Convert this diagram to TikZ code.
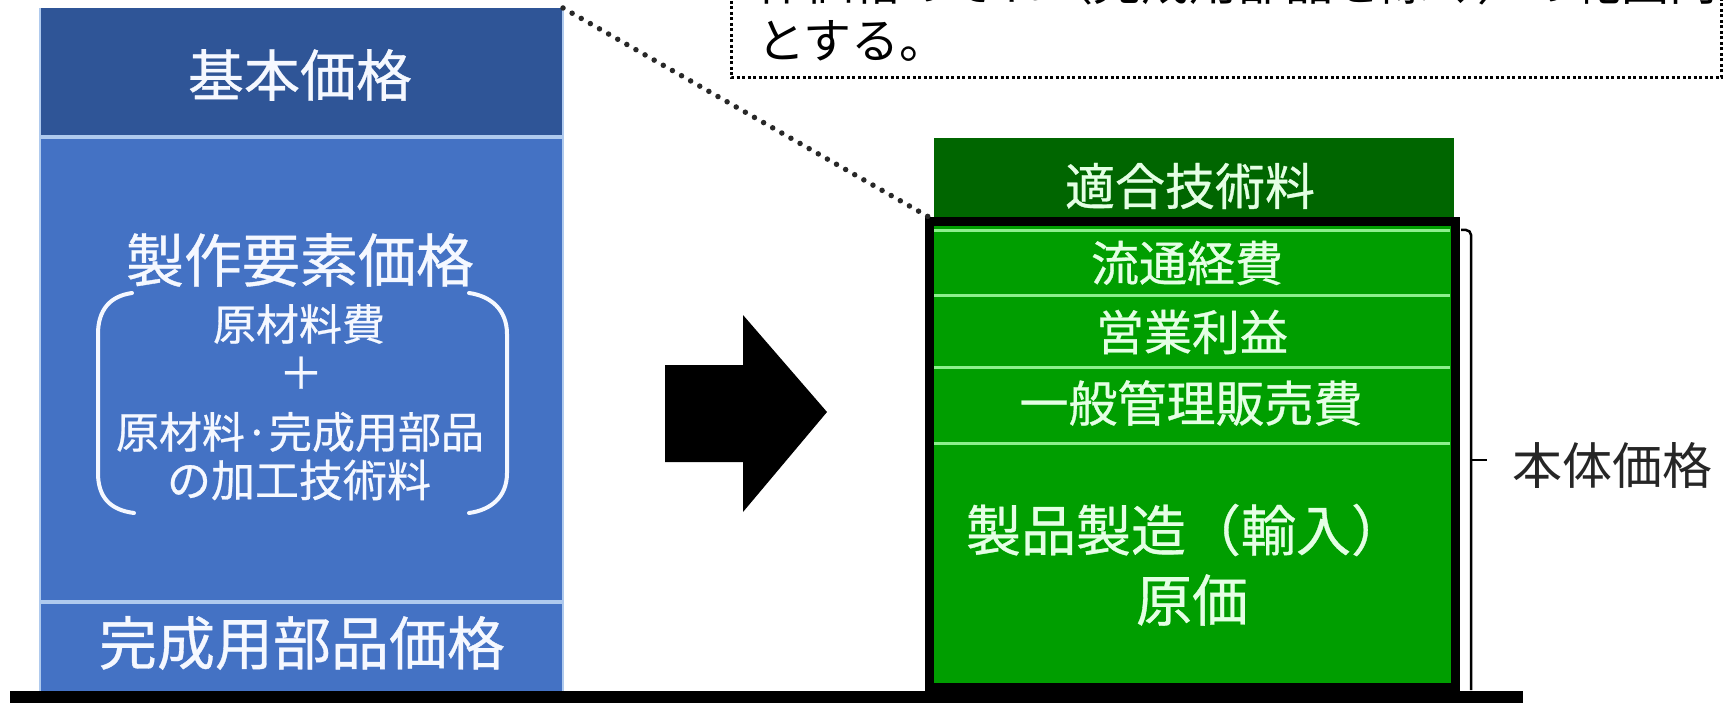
\documentclass[tikz,border=0pt]{standalone}
\usepackage{fontspec}
\newfontfamily\jp{Noto Sans CJK JP}
\newfontfamily\jpb[FakeBold=0.6]{Noto Sans CJK JP}
\definecolor{bluehead}{RGB}{47,85,151}
\definecolor{bluemain}{RGB}{68,114,196}
\definecolor{bluesep}{RGB}{175,202,238}
\definecolor{bluetext}{RGB}{245,248,255}
\definecolor{greenhead}{RGB}{0,102,0}
\definecolor{greenmain}{RGB}{0,158,0}
\definecolor{greensep}{RGB}{140,240,140}
\definecolor{greentext}{RGB}{228,255,228}
\definecolor{dotgrey}{RGB}{40,40,40}
\begin{document}
\begin{tikzpicture}[x=1pt,y=-1pt,
  blk/.style={inner sep=0pt, outer sep=0pt, anchor=north west},
  wtxt/.style={text=bluetext, inner sep=0pt, font=\jpb\fontsize{#1}{#1}\selectfont},
  gtxt/.style={text=greentext, inner sep=0pt, font=\jpb\fontsize{#1}{#1}\selectfont},
  ktxt/.style={text=black, inner sep=0pt, anchor=base west, font=\jp\fontsize{#1}{#1}\selectfont},
  bsep/.style={draw=bluesep, line width=4pt},
  bedge/.style={draw=bluesep, line width=1.5pt},
  gsep/.style={draw=greensep, line width=3pt},
  paren/.style={draw=bluetext, line width=4pt, line cap=round},
  dotline/.style={draw=dotgrey, line width=5.5pt, dash pattern=on 0pt off 10.5pt, line cap=round},
  dotbox/.style={draw=black, line width=3pt, dash pattern=on 3pt off 2.5pt}
]
\useasboundingbox (0,0) rectangle (1731,703);
\fill[white] (0,0) rectangle (1731,703);

% ---------- left blue column ----------
\node[blk, fill=bluemain, minimum width=523pt, minimum height=684pt] (bluecol) at (40,8) {};
\node[blk, fill=bluehead, minimum width=523pt, minimum height=128pt] (bluehd) at (40,8) {};
\draw[bedge] (bluecol.north east) -- (bluecol.south east);
\draw[bedge] (bluecol.north west) -- (bluecol.south west);
\draw[bsep] (40,137) -- (563,137);
\draw[bsep] (40,602) -- (563,602);

\node[wtxt=56] (kihon) at (300,75) {基本価格};
\node[wtxt=58] (seisaku) at (300,260) {製作要素価格};
\node[wtxt=43] (genzai) at (299,324) {原材料費};
\node[wtxt=44] (plus) at (301,373) {＋};
\node[wtxt=43] (genzai2) at (300,432) {原材料·完成用部品};
\node[wtxt=44] (kako) at (299,480) {の加工技術料};
\node[wtxt=58] (kansei) at (302,643) {完成用部品価格};

\draw[paren] (132,293) .. controls (110,296) and (98,310) .. (98,334) -- (98,473) .. controls (98,497) and (110,510) .. (134,513);
\draw[paren] (469,293) .. controls (491,296) and (507,310) .. (507,334) -- (507,473) .. controls (507,497) and (491,510) .. (469,513);

% ---------- block arrow ----------
\fill[black] (665,365) -- (743,365) -- (743,315) -- (827,412) -- (743,512) -- (743,462) -- (665,462) -- cycle;

% ---------- right green column ----------
\node[blk, fill=greenhead, minimum width=520pt, minimum height=82pt] (tekigo) at (934,138) {};
\node[gtxt=50] (tekigotxt) at (1190,186) {適合技術料};
\node[blk, fill=greenmain, draw=black, line width=9pt, minimum width=526pt, minimum height=465pt] (body) at (929,222) {};
\draw[gsep] (934,231) -- (1450,231);
\draw[gsep] (934,295) -- (1450,295);
\draw[gsep] (934,367) -- (1450,367);
\draw[gsep] (934,443) -- (1450,443);
\node[gtxt=48] (ryutsu) at (1187,263) {流通経費};
\node[gtxt=48] (eigyo) at (1192,332) {営業利益};
\node[gtxt=49] (ippan) at (1191,403) {一般管理販売費};
\node[gtxt=55] (seihin) at (1186,530) {製品製造（輸入）};
\node[gtxt=56] (genka) at (1192,600) {原価};

% ---------- bracket + label ----------
\coordinate (brtop) at (1461,230);
\coordinate (brbot) at (1471,690);
\coordinate (brtick) at (1471,460);
\coordinate (ticktip) at (1487,460);
\draw[black, line width=2.5pt, rounded corners=5pt] (brtop) -| (brbot);
\draw[black, line width=2.5pt] (brtick) -- (ticktip);
\node[text=black!85, inner sep=0pt, anchor=west, font=\jp\fontsize{50}{50}\selectfont] (hontai) at (1512,465) {本体価格};

% ---------- base line ----------
\fill[black] (10,691) rectangle (1523,703);

% ---------- dotted note box ----------
\begin{scope}
\clip (0,0) rectangle (1731,703);
\draw[dotbox] (731,-120) rectangle (1721,78);
\node[ktxt=48] (note1) at (757,1) {体価格のそれ（完成用部品を除く）の範囲内};
\node[ktxt=48] (note2) at (757,59) {とする。};
\end{scope}

% ---------- dotted connector ----------
\draw[dotline] (bluecol.north east) -- (tekigo.south west);
\end{tikzpicture}
\end{document}
